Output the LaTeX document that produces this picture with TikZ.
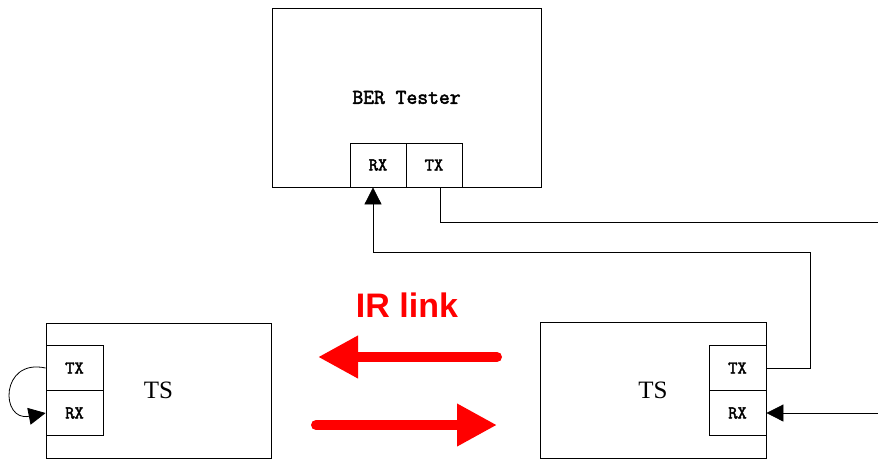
\documentclass[tikz,border=0pt]{standalone}
\usepackage{fontspec}
\setmainfont{Liberation Serif}
\setsansfont{Liberation Sans}
\newfontfamily\monobold{Latin Modern Mono}[FakeBold=2.5]
\usetikzlibrary{arrows.meta}
\tikzset{
  unit/.style={draw, line width=0.8pt, inner sep=0pt},
  port/.style={draw, line width=0.8pt, fill=white, inner sep=0pt,
    minimum width=57pt, minimum height=45pt,
    font=\monobold\fontsize{18}{20}\selectfont},
  wire/.style={line width=0.8pt},
  tip/.style={-{Triangle[length=17pt,width=17pt]}},
  irarrow/.style={red, line width=10pt, line cap=round,
    -{Triangle[length=40pt,width=40pt]}}
}
\begin{document}
\begin{tikzpicture}[x=1pt,y=-1pt]
  \useasboundingbox (0,0) rectangle (878,459);

  \node (ber) [unit, minimum width=269pt, minimum height=179pt] at (406.5,97.5)
    {\monobold\fontsize{21}{23}\selectfont BER Tester};
  \node (berrx) [port, minimum width=56pt, minimum height=44pt] at (378,165) {RX};
  \node (bertx) [port, minimum width=56pt, minimum height=44pt] at (434,165) {TX};

  \node (tsl) [unit, minimum width=225pt, minimum height=135pt] at (158.5,390.5)
    {\fontsize{25}{28}\selectfont TS};
  \node (tsltx) [port] at (74.5,368) {TX};
  \node (tslrx) [port] at (74.5,413) {RX};

  \node (tsr) [unit, minimum width=226pt, minimum height=136pt] at (653,390)
    {\fontsize{25}{28}\selectfont TS};
  \node (tsrtx) [port] at (737.5,368) {TX};
  \node (tsrrx) [port] at (737.5,413) {RX};

  \node (irlabel) [red, font=\sffamily\bfseries\fontsize{34}{36}\selectfont] at (407,305) {IR link};

  \coordinate (outA) at (878,222);
  \coordinate (bendB) at (810,252);
  \coordinate (inC) at (878,413);

  % wires
  \draw [wire] ([xshift=6pt]bertx.south) |- (outA);
  \draw [wire,tip] (tsrtx.east) -| (bendB) -| ([xshift=-5pt]berrx.south);
  \draw [wire,tip] (inC) -- (tsrrx.east);
  \draw [wire,tip] (tsltx.west) .. controls (0,358) and (0,422) .. (tslrx.west);

  % IR link
  \coordinate (irtopr) at (497,357);
  \coordinate (irtopl) at (318,357);
  \coordinate (irbotl) at (316,425);
  \coordinate (irbotr) at (497,425);
  \draw [irarrow] (irtopr) -- (irtopl);
  \draw [irarrow] (irbotl) -- (irbotr);
\end{tikzpicture}
\end{document}
